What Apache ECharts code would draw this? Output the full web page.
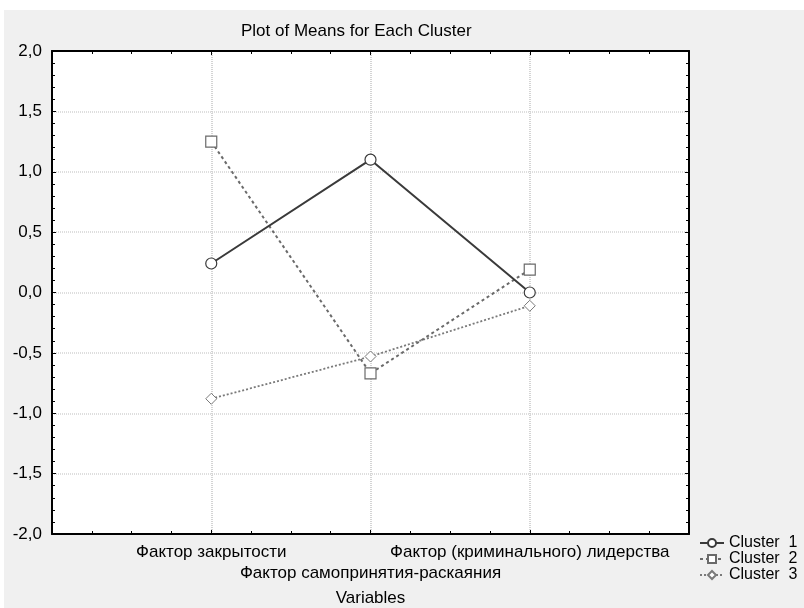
<!DOCTYPE html>
<html><head><meta charset="utf-8">
<script src="https://cdn.jsdelivr.net/npm/echarts@6/dist/echarts.min.js"></script>
<style>html,body{margin:0;padding:0;background:#fff}#c{width:804px;height:608px}</style>
</head><body><div id="c"></div>
<script>
const categories = ['Фактор закрытости', 'Фактор самопринятия-раскаяния', 'Фактор (криминального) лидерства'];
const catPositions = [1, 2, 3];
const seriesNames = ['Cluster  1', 'Cluster  2', 'Cluster  3'];
const cluster1 = [0.24, 1.10, 0.00];
const cluster2 = [1.25, -0.67, 0.19];
const cluster3 = [-0.88, -0.53, -0.11];
const yTicks = [-2, -1.5, -1, -0.5, 0, 0.5, 1, 1.5, 2];

const FONT = '"Liberation Sans", Arial, sans-serif';
const chart = echarts.init(document.getElementById('c'), null, {renderer: 'canvas'});
function pts(vals){ return vals.map((v,i)=>[catPositions[i], v]); }
function fmtY(v){ return v.toFixed(1).replace('.', ','); }

const axisLineStyle = {show: true, onZero: false, lineStyle: {color: '#000', width: 2}};
const xCommon = {
  type: 'value', min: 0, max: 4, interval: 1,
  axisLine: axisLineStyle,
  axisTick: {show: true, inside: true, length: 4, lineStyle: {color: '#000', width: 1}},
  minorTick: {show: true, splitNumber: 4, length: 3, lineStyle: {color: '#000', width: 1}},
};
const yCommon = {
  type: 'value', min: -2, max: 2, interval: 0.5,
  axisLine: axisLineStyle,
  axisTick: {show: true, inside: true, length: 4, lineStyle: {color: '#000', width: 1}},
  minorTick: {show: true, splitNumber: 5, length: 3, lineStyle: {color: '#000', width: 1}},
};

chart.setOption({
  backgroundColor: '#fff',
  animation: false,
  graphic: [{type: 'rect', left: 4, top: 10, shape: {width: 800, height: 598}, style: {fill: '#f0f0f0'}, z: -10, silent: true}],
  title: {text: 'Plot of Means for Each Cluster', left: 236, top: 18,
    textStyle: {fontFamily: FONT, fontSize: 17, fontWeight: 'normal', color: '#000'}},
  grid: {left: 52, right: 115, top: 51, bottom: 74, show: true, backgroundColor: '#fff', borderWidth: 0,
    containLabel: false, outerBoundsMode: 'none'},
  xAxis: [
    Object.assign({}, xCommon, {position: 'bottom',
      name: 'Variables', nameLocation: 'middle', nameGap: 56,
      nameTextStyle: {fontFamily: FONT, fontSize: 17, color: '#000'},
      axisLabel: {show: true, margin: 8, fontFamily: FONT, fontSize: 17, color: '#000', lineHeight: 21,
        formatter: function(v){ const i = catPositions.indexOf(v); if (i < 0) return ''; return (i === 1 ? '\n' : '') + categories[i]; }},
      splitLine: {show: true, lineStyle: {color: '#d4d4d4', width: 2, type: [1,1]}}}),
    Object.assign({}, xCommon, {position: 'top', axisLabel: {show: false}, splitLine: {show: false}})
  ],
  yAxis: [
    Object.assign({}, yCommon, {position: 'left',
      axisLabel: {show: true, margin: 10, fontFamily: FONT, fontSize: 17, color: '#000',
        formatter: function(v){ return yTicks.indexOf(v) >= 0 ? fmtY(v) : ''; }},
      splitLine: {show: true, lineStyle: {color: '#d4d4d4', width: 1.5, type: [1,1]}}}),
    Object.assign({}, yCommon, {position: 'right', axisLabel: {show: false}, splitLine: {show: false}})
  ],
  legend: {
    orient: 'vertical', left: 694, top: 530, itemGap: 0, itemWidth: 24, itemHeight: 10,
    textStyle: {fontFamily: FONT, fontSize: 16, color: '#000'},
    data: seriesNames
  },
  series: [
    {name: seriesNames[0], type: 'line', data: pts(cluster1), symbol: 'circle', symbolSize: 11,
      color: '#3a3a3a',
      lineStyle: {color: '#3a3a3a', width: 2, type: 'solid'},
      itemStyle: {color: '#fff', borderColor: '#3a3a3a', borderWidth: 1.2}, z: 5},
    {name: seriesNames[1], type: 'line', data: pts(cluster2), symbol: 'rect', symbolSize: 11,
      color: '#6a6a6a',
      lineStyle: {color: '#6a6a6a', width: 2, type: [3,3]},
      itemStyle: {color: '#fff', borderColor: '#6a6a6a', borderWidth: 1.2}, z: 4},
    {name: seriesNames[2], type: 'line', data: pts(cluster3), symbol: 'diamond', symbolSize: 11,
      color: '#7a7a7a',
      lineStyle: {color: '#7a7a7a', width: 1.8, type: [2,2]},
      itemStyle: {color: '#fff', borderColor: '#7a7a7a', borderWidth: 1}, z: 3}
  ]
});
</script></body></html>
